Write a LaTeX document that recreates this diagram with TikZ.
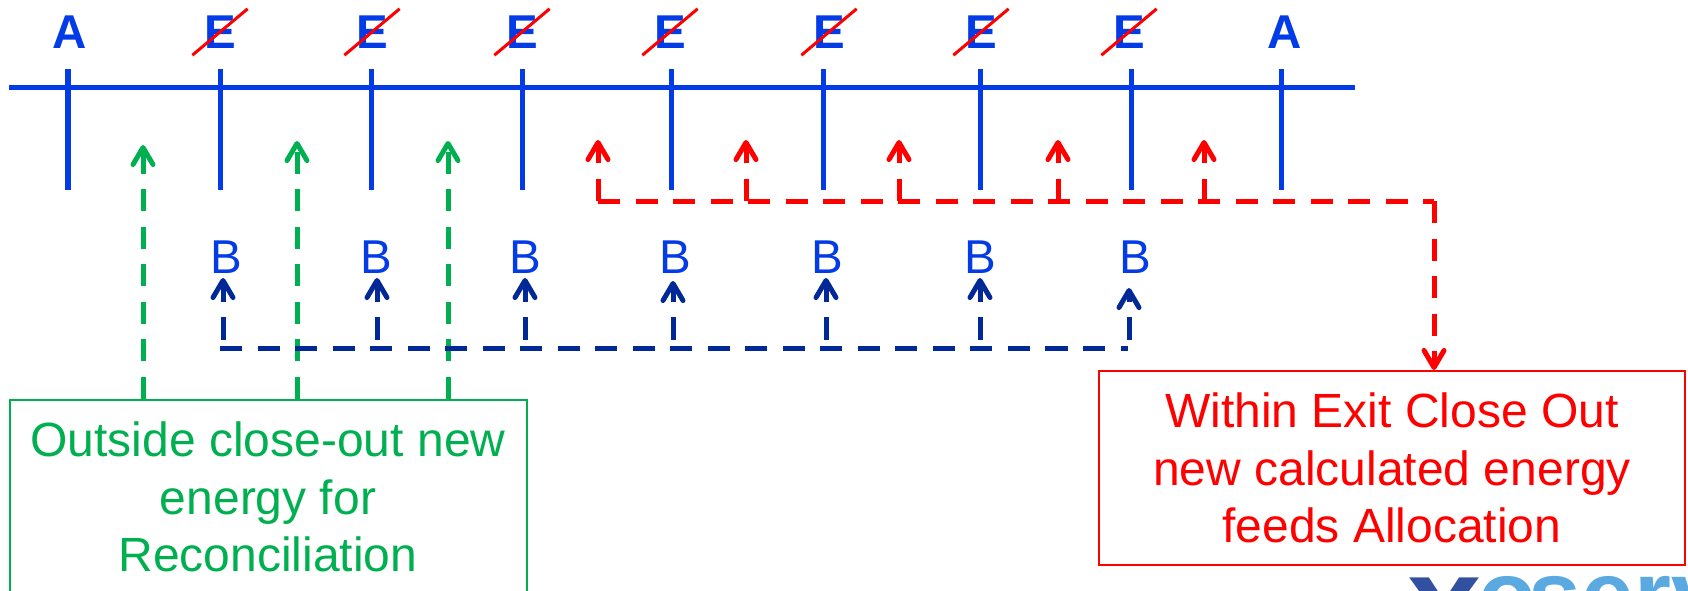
\documentclass[tikz,border=0pt]{standalone}
\usepackage{fontspec}
\setmainfont{Liberation Sans}
\usepackage{xcolor}
\usetikzlibrary{arrows.meta}
\usetikzlibrary{positioning}
\definecolor{axisblue}{RGB}{3,60,230}
\definecolor{darkblue}{RGB}{0,40,150}
\definecolor{outgreen}{RGB}{0,176,80}
\definecolor{logoblue}{RGB}{90,170,225}
\definecolor{logodark}{RGB}{50,80,160}
\tikzset{main node/.style={inner sep=0pt,text=axisblue,font=\fontsize{13.5}{13.5}\selectfont\bfseries}}
\tikzset{read node/.style={inner sep=0pt,text=axisblue,font=\fontsize{13.5}{13.5}\selectfont}}
\tikzset{text box/.style={draw,line width=0.2mm,inner sep=0pt,align=center,font=\fontsize{13.65}{16.4}\selectfont}}
\tikzset{tick line/.style={axisblue,line width=0.5mm}}
\tikzset{strike line/.style={red,line width=0.3mm,shorten >=-0.145cm,shorten <=-0.145cm}}
\tikzset{feed line/.style={dash pattern=on 0.22cm off 0.155cm,line width=0.5mm}}
\tikzset{feed tip/.style={-{Straight Barb[length=0.17cm,width=0.2cm,round]}}}
\begin{document}
\begin{tikzpicture}[x=0.01cm,y=-0.01cm]
    \useasboundingbox (0,0) rectangle (1688,590);
    % axis and ticks
    \coordinate (l_{1}) at (9,87); \coordinate (l_{2}) at (1355,87);
    \coordinate (t_{1}) at (68,69); \coordinate (u_{1}) at (68,190);
    \coordinate (t_{2}) at (220,69); \coordinate (u_{2}) at (220,190);
    \coordinate (t_{3}) at (371,69); \coordinate (u_{3}) at (371,190);
    \coordinate (t_{4}) at (522,69); \coordinate (u_{4}) at (522,190);
    \coordinate (t_{5}) at (671,69); \coordinate (u_{5}) at (671,190);
    \coordinate (t_{6}) at (823,69); \coordinate (u_{6}) at (823,190);
    \coordinate (t_{7}) at (980,69); \coordinate (u_{7}) at (980,190);
    \coordinate (t_{8}) at (1131,69); \coordinate (u_{8}) at (1131,190);
    \coordinate (t_{9}) at (1281,69); \coordinate (u_{9}) at (1281,190);
    \path [tick line]
    (l_{1}) edge (l_{2})
    (t_{1}) edge (u_{1}) (t_{2}) edge (u_{2}) (t_{3}) edge (u_{3})
    (t_{4}) edge (u_{4}) (t_{5}) edge (u_{5}) (t_{6}) edge (u_{6})
    (t_{7}) edge (u_{7}) (t_{8}) edge (u_{8}) (t_{9}) edge (u_{9});

    % top letters
    \node[main node] (a_{1}) at (70,32) {A};
    \node[main node] (e_{1}) at (220,32) {E};
    \node[main node] (e_{2}) at (372,32) {E};
    \node[main node] (e_{3}) at (522,32) {E};
    \node[main node] (e_{4}) at (670,32) {E};
    \node[main node] (e_{5}) at (829,32) {E};
    \node[main node] (e_{6}) at (981,32) {E};
    \node[main node] (e_{7}) at (1129,32) {E};
    \node[main node] (a_{2}) at (1285,32) {A};
    \path [strike line]
    (e_{1}.220) edge (e_{1}.40)
    (e_{2}.220) edge (e_{2}.40)
    (e_{3}.220) edge (e_{3}.40)
    (e_{4}.220) edge (e_{4}.40)
    (e_{5}.220) edge (e_{5}.40)
    (e_{6}.220) edge (e_{6}.40)
    (e_{7}.220) edge (e_{7}.40);

    % B labels
    \node[read node] (b_{1}) at (226,257) {B};
    \node[read node] (b_{2}) at (376,257) {B};
    \node[read node] (b_{3}) at (525,257) {B};
    \node[read node] (b_{4}) at (675,257) {B};
    \node[read node] (b_{5}) at (827,257) {B};
    \node[read node] (b_{6}) at (980,257) {B};
    \node[read node] (b_{7}) at (1135,257) {B};

    % boxes
    \node[text box,draw=outgreen,minimum width=5.17cm,minimum height=2.6cm,anchor=north] (out_{1}) at (268.5,399) {};
    \node[inner sep=0pt,text=outgreen,align=center,font=\fontsize{13.65}{16.4}\selectfont] (out_{2}) at (268,497) {Outside close-out new\\energy for\\Reconciliation};
    \node[text box,draw=red,text=red,minimum width=5.86cm,minimum height=1.94cm] (exit_{1}) at (1392,468) {Within Exit Close Out\\new calculated energy\\feeds Allocation};

    % green arrows
    \coordinate (g_{1}) at (143,145); \coordinate (g_{2}) at (297,141); \coordinate (g_{3}) at (448,141);
    \path [feed line,feed tip,outgreen]
    (g_{1} |- out_{1}.north) edge (g_{1})
    (g_{2} |- out_{1}.north) edge (g_{2})
    (g_{3} |- out_{1}.north) edge (g_{3});

    % red arrows
    \coordinate (rs_{1}) at (598,201); \coordinate (rs_{2}) at (1434,201);
    \coordinate (r_{1}) at (598,140); \coordinate (r_{2}) at (746,140); \coordinate (r_{3}) at (899,140);
    \coordinate (r_{4}) at (1058,140); \coordinate (r_{5}) at (1204,140);
    \path [feed line,red]
    (rs_{1}) edge (rs_{2});
    \path [feed line,feed tip,red]
    (rs_{2}) edge (rs_{2} |- exit_{1}.north)
    (r_{1} |- rs_{1}) edge (r_{1})
    (r_{2} |- rs_{1}) edge (r_{2})
    (r_{3} |- rs_{1}) edge (r_{3})
    (r_{4} |- rs_{1}) edge (r_{4})
    (r_{5} |- rs_{1}) edge (r_{5});

    % dark blue arrows
    \coordinate (ds_{1}) at (220,348); \coordinate (ds_{2}) at (1128,348);
    \coordinate (d_{1}) at (223,278); \coordinate (d_{2}) at (377,278); \coordinate (d_{3}) at (525,278);
    \coordinate (d_{4}) at (673,281); \coordinate (d_{5}) at (826,278); \coordinate (d_{6}) at (980,278);
    \coordinate (d_{7}) at (1129,288);
    \path [feed line,darkblue]
    (ds_{1}) edge (ds_{2});
    \path [feed line,feed tip,darkblue,dash phase=0.29cm]
    (d_{1} |- ds_{1}) edge (d_{1})
    (d_{2} |- ds_{1}) edge (d_{2})
    (d_{3} |- ds_{1}) edge (d_{3})
    (d_{4} |- ds_{1}) edge (d_{4})
    (d_{5} |- ds_{1}) edge (d_{5})
    (d_{6} |- ds_{1}) edge (d_{6})
    (d_{7} |- ds_{1}) edge (d_{7});

    % logo, cut off by the page
    \node[anchor=base west,inner sep=0pt,text=logodark,font=\fontsize{38}{38}\selectfont\bfseries] (logo_{1}) at (1407,648) {x};
    \node[anchor=base west,inner sep=0pt,text=logoblue,font=\fontsize{27}{27}\selectfont\bfseries] (logo_{2}) at (1478,627) {o\kern-0.8mm serve};
\end{tikzpicture}
\end{document}
